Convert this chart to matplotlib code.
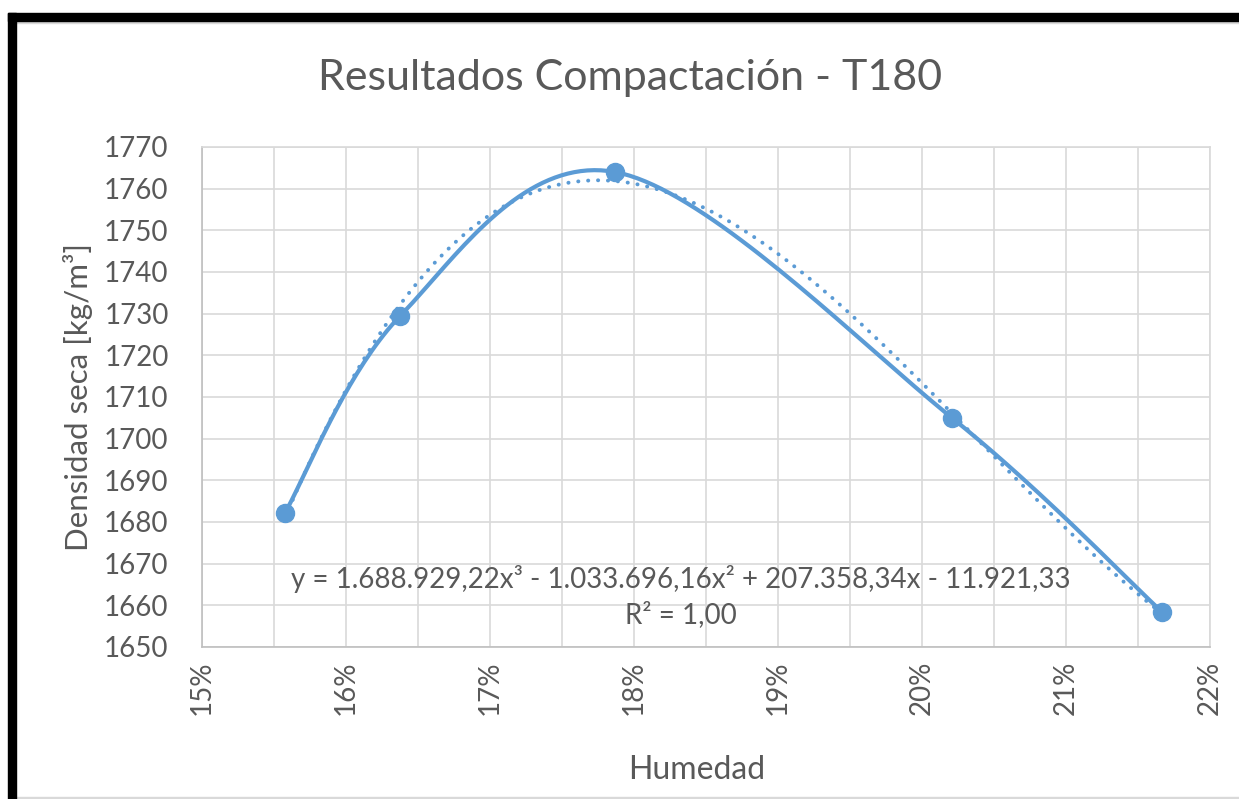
import numpy as np
import matplotlib
matplotlib.use("Agg")
import matplotlib.pyplot as plt
from matplotlib.ticker import MultipleLocator, PercentFormatter
from matplotlib.patches import Rectangle

# data
humedad = [0.15576, 0.16375, 0.17868, 0.20208, 0.21667]
densidad = [1682.2, 1729.4, 1764.0, 1705.0, 1658.4]
ecuacion = "y = 1.688.929,22x³ - 1.033.696,16x² + 207.358,34x - 11.921,33"
r2_texto = "R² = 1,00"

azul = "#5B9BD5"
gris_txt = "#595959"
gris_grid = "#D9D9D9"

plt.rcParams['font.family'] = ['Lato', 'DejaVu Sans']


def excel_smooth(x, y, n=40):
    """Bezier smoothing like Excel's 'smoothed line' (Catmull-Rom tangents)."""
    px = [x[0]] + list(x) + [x[-1]]
    py = [y[0]] + list(y) + [y[-1]]
    xs, ys = [], []
    t = np.linspace(0, 1, n)
    for i in range(1, len(px) - 2):
        p0 = np.array([px[i], py[i]])
        p3 = np.array([px[i + 1], py[i + 1]])
        c1 = p0 + (np.array([px[i + 1], py[i + 1]]) - np.array([px[i - 1], py[i - 1]])) / 6
        c2 = p3 - (np.array([px[i + 2], py[i + 2]]) - np.array([px[i], py[i]])) / 6
        pts = ((1 - t) ** 3)[:, None] * p0 + (3 * (1 - t) ** 2 * t)[:, None] * c1 \
            + (3 * (1 - t) * t ** 2)[:, None] * c2 + (t ** 3)[:, None] * p3
        xs.extend(pts[:, 0])
        ys.extend(pts[:, 1])
    return np.array(xs), np.array(ys)


fig = plt.figure(figsize=(12.39, 7.99), dpi=100)
ax = fig.add_axes([202 / 1239, 1 - 647 / 799, 1008 / 1239, 500 / 799])

# polynomial trendline (order 3)
coef = np.polyfit(humedad, densidad, 3)
xt = np.linspace(humedad[0], humedad[-1], 300)
ax.plot(xt, np.polyval(coef, xt), color=azul, lw=2.8, ls=(0, (0.05, 2.5)),
        dash_capstyle='round', zorder=3)

sx, sy = excel_smooth(humedad, densidad)
ax.plot(sx, sy, color=azul, lw=3.0, zorder=4, solid_capstyle='round')
ax.plot(humedad, densidad, 'o', color=azul, ms=13, zorder=5)

ax.set_xlim(0.15, 0.22)
ax.set_ylim(1650, 1770)
ax.xaxis.set_major_locator(MultipleLocator(0.01))
ax.xaxis.set_minor_locator(MultipleLocator(0.005))
ax.yaxis.set_major_locator(MultipleLocator(10))
ax.xaxis.set_major_formatter(PercentFormatter(1.0, decimals=0))
ax.grid(True, which='both', axis='x', color=gris_grid, lw=1.2)
ax.grid(True, which='major', axis='y', color=gris_grid, lw=1.2)
ax.set_axisbelow(True)
ax.tick_params(which='both', length=0, labelcolor=gris_txt, labelsize=20)
ax.tick_params(axis='y', pad=24)
ax.tick_params(axis='x', pad=10)
for lab in ax.get_xticklabels():
    lab.set_rotation(90)
for s in ax.spines.values():
    s.set_color(gris_grid)
    s.set_linewidth(1.2)
ax.spines['left'].set_color('#BFBFBF')
ax.spines['bottom'].set_color('#BFBFBF')

# trendline label
x_eq = 0.15 + (681 - 202) / 144 * 0.01
ax.text(x_eq, 1666.3, ecuacion, ha='center', va='center',
        fontsize=20, color=gris_txt)
ax.text(x_eq, 1657.8, r2_texto, ha='center', va='center',
        fontsize=20, color=gris_txt)

fig.text(630 / 1239, 1 - 78 / 799, "Resultados Compactación - T180", ha='center',
         va='center', fontsize=31, color=gris_txt)
ax.set_ylabel("Densidad seca [kg/m³]", fontsize=22.5, color=gris_txt, labelpad=8)
fig.text(697 / 1239, 1 - 770 / 799, "Humedad", ha='center', va='center',
         fontsize=23, color=gris_txt)

# black frame on left/top edge
fig.patches.append(Rectangle((8 / 1239, 0), 8 / 1239, 1 - 13 / 799,
                             transform=fig.transFigure, color='black', zorder=10))
fig.patches.append(Rectangle((8 / 1239, 1 - 21 / 799), 1 - 8 / 1239, 8 / 799,
                             transform=fig.transFigure, color='black', zorder=10))
fig.patches.append(Rectangle((16 / 1239, 1 - 23 / 799), 1, 2 / 799,
                             transform=fig.transFigure, color='#D9D9D9', zorder=9))
fig.patches.append(Rectangle((16 / 1239, 0), 1, 2 / 799,
                             transform=fig.transFigure, color='#D9D9D9', zorder=9))

fig.savefig("out.png", dpi=100)
